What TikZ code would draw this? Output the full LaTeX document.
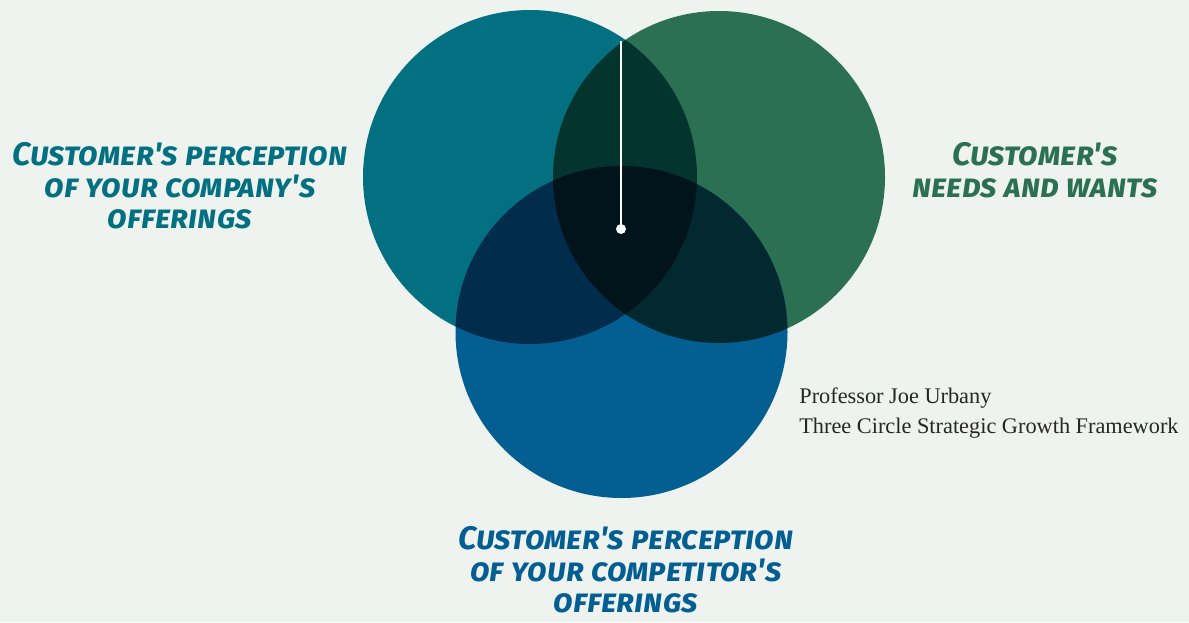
\documentclass[tikz,border=0pt]{standalone}
\usepackage{fontspec}
\usepackage{tikz}
\usetikzlibrary{positioning}
\newfontfamily\handfont{Fira Sans}[Letters=SmallCaps]
\newfontfamily\notefont{Liberation Serif}
\definecolor{PaperBg}{HTML}{EEF3F0}
\definecolor{CompTeal}{HTML}{037082}
\definecolor{NeedGreen}{HTML}{2C7054}
\definecolor{RivalBlue}{HTML}{035E92}
\definecolor{TealGreen}{HTML}{03352E}
\definecolor{TealBlue}{HTML}{022C4C}
\definecolor{GreenBlue}{HTML}{02292F}
\definecolor{AllThree}{HTML}{02141B}
\begin{document}
\begin{tikzpicture}[x=0.02cm,y=-0.02cm,
  head/.style={align=center,inner sep=0pt,font=\handfont\bfseries\itshape\fontsize{18.5}{18}\selectfont},
  note/.style={align=left,inner sep=0pt,font=\notefont\fontsize{12.7}{17}\selectfont,text=black!85},
  pin/.style={circle,fill=white,inner sep=0pt,minimum size=0.2cm},
]
\fill[PaperBg] (0,0) rectangle (1189,622);
\useasboundingbox (0,0) rectangle (1189,622);
% circle centres
\coordinate (comp) at (530,177);
\coordinate (need) at (719,177);
\coordinate (rival) at (621.5,332);
\fill[CompTeal] (comp) circle[radius=167];
\fill[NeedGreen] (need) circle[radius=166];
\fill[RivalBlue] (rival) circle[radius=166];
% overlaps
\begin{scope}
  \clip (comp) circle[radius=167];
  \fill[TealGreen] (need) circle[radius=166];
  \fill[TealBlue] (rival) circle[radius=166];
\end{scope}
\begin{scope}
  \clip (need) circle[radius=166];
  \fill[GreenBlue] (rival) circle[radius=166];
  \clip (rival) circle[radius=166];
  \fill[AllThree] (comp) circle[radius=167];
\end{scope}
% marker
\coordinate (top) at (621,41);
\node[pin] (dot) at (621,229) {};
\draw[white,line width=1.3pt] (top) -- (dot.center);
% labels
\node[head,text=CompTeal] (compl) at (180,186) {Customer's perception\\of your company's\\offerings};
\node[head,text=NeedGreen] (needl) at (1035,170) {Customer's\\needs and wants};
\node[head,text=RivalBlue] (rivall) at (626,570) {Customer's perception\\of your competitor's\\offerings};
\node[note,anchor=base west] (credit) at (799,433) {Professor Joe Urbany\\Three Circle Strategic Growth Framework};
\end{tikzpicture}
\end{document}
